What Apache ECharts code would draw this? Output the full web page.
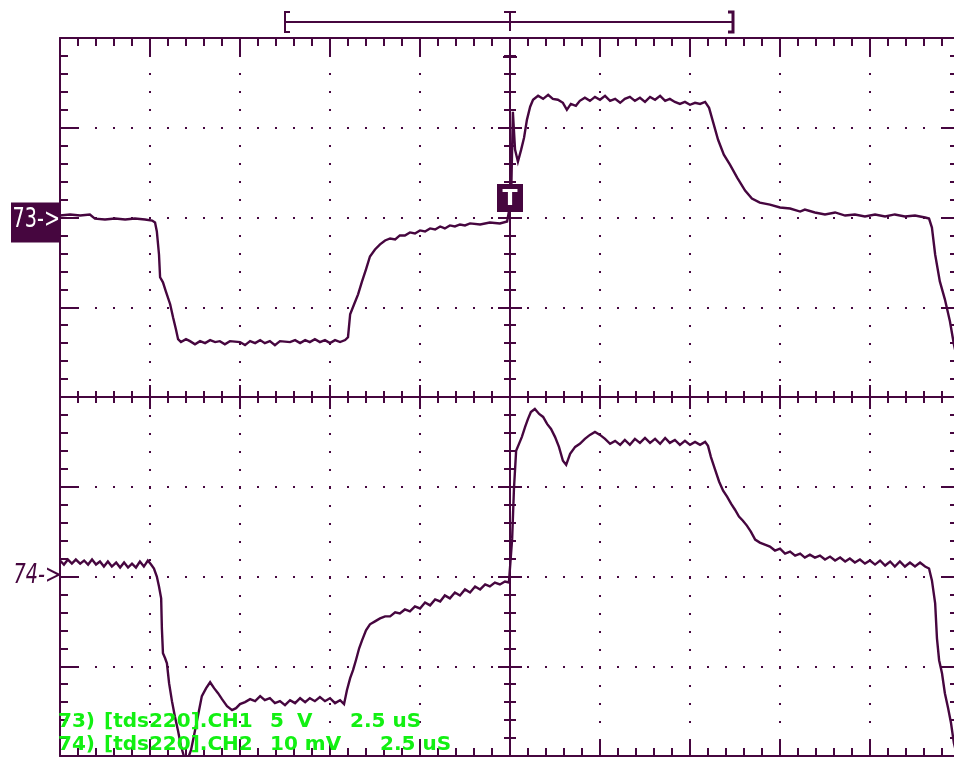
<!DOCTYPE html>
<html>
<head>
<meta charset="utf-8">
<script src="https://cdn.jsdelivr.net/npm/echarts@6/dist/echarts.min.js"></script>
<style>
  html, body { margin: 0; padding: 0; background: #ffffff; overflow: hidden; }
  #scope { width: 954px; height: 757px; }
</style>
</head>
<body>
<div id="scope"></div>
<script>
// Horizontal scale: 2.5 us per division, trigger at t = 0
const timeRange = [-12.5, 12.5];
const timePerDiv = 2.5;

// CH1: 5 V per division, ground two divisions below the top
const ch1Range = [-30, 10];
const ch1PerDiv = 5;
// CH2: 10 mV per division, ground two divisions above the bottom
const ch2Range = [-20, 60];
const ch2PerDiv = 10;

// Channel 73 (CH1) samples: time in us, amplitude in V
const ch1Time = [
  -12.5,-12.22,-11.94,-11.67,-11.53,-11.25,-10.97,-10.69,-10.42,-10.14,-9.94,-9.86,-9.81,-9.75,-9.72,-9.64,-9.56,-9.44,-9.36,-9.28,-9.22,
  -9.14,-9.0,-8.89,-8.75,-8.61,-8.47,-8.33,-8.19,-8.06,-7.92,-7.78,-7.5,-7.36,-7.22,-7.08,-6.94,-6.81,-6.67,-6.53,-6.39,-6.11,-5.97,-5.83,-5.69,-5.56,-5.42,-5.28,-5.14,-5.0,-4.86,-4.72,-4.58,
  -4.5,-4.44,-4.33,-4.22,-4.11,-4.0,-3.89,-3.75,
  -3.61,-3.47,-3.33,-3.19,-3.06,-2.92,-2.78,-2.64,-2.5,-2.36,-2.22,-2.08,-1.94,-1.81,-1.67,-1.53,-1.39,-1.25,-1.11,-0.83,-0.56,-0.28,-0.08,
  0.03,0.08,0.14,0.22,0.31,0.39,0.47,0.56,
  0.64,0.78,0.92,1.06,1.19,1.33,1.47,1.58,1.69,1.83,1.94,2.08,2.22,2.36,2.5,2.64,2.78,2.92,3.06,3.19,3.33,3.47,3.61,3.75,3.89,4.03,4.17,4.31,4.44,4.58,4.72,4.86,5.0,5.14,5.28,5.42,
  5.53,5.64,5.78,5.94,6.11,6.31,6.53,6.72,6.94,
  7.22,7.5,7.78,8.06,8.19,8.47,8.75,9.03,9.31,9.58,9.86,10.14,10.42,10.69,10.97,11.25,11.53,
  11.64,11.72,11.81,11.94,12.08,12.22,12.33,12.42];
const ch1Volt = [
  0.11,0.17,0.11,0.17,-0.06,-0.11,-0.06,-0.11,-0.06,-0.11,-0.17,-0.28,-0.78,-2.06,-3.33,-3.61,-4.11,-4.83,-5.56,-6.22,-6.78,
  -6.94,-6.78,-6.89,-7.06,-6.89,-7.0,-6.83,-6.94,-6.89,-7.06,-6.89,-6.94,-7.11,-6.89,-7.0,-6.83,-7.0,-6.89,-7.11,-6.89,-6.94,-6.83,-7.0,-6.83,-6.94,-6.78,-6.94,-6.83,-7.0,-6.83,-6.94,-6.83,
  -6.67,-5.39,-4.83,-4.28,-3.56,-2.89,-2.17,-1.78,
  -1.5,-1.28,-1.17,-1.22,-1.0,-1.0,-0.83,-0.89,-0.72,-0.78,-0.61,-0.67,-0.5,-0.61,-0.44,-0.5,-0.39,-0.44,-0.33,-0.39,-0.28,-0.33,-0.22,
  1.0,5.89,3.78,3.11,3.78,4.44,5.44,6.17,
  6.56,6.78,6.61,6.83,6.61,6.56,6.39,6.0,6.33,6.22,6.5,6.67,6.5,6.72,6.56,6.78,6.5,6.61,6.39,6.61,6.72,6.5,6.67,6.44,6.72,6.56,6.78,6.5,6.61,6.44,6.33,6.44,6.28,6.39,6.33,6.44,
  6.11,5.33,4.33,3.5,2.94,2.22,1.5,1.06,0.83,
  0.72,0.56,0.5,0.33,0.44,0.28,0.17,0.28,0.11,0.17,0.06,0.17,0.06,0.17,0.06,0.11,0.0,
  -0.06,-0.56,-2.06,-3.56,-4.56,-5.78,-7.06,-7.89];

// Channel 74 (CH2) samples: time in us, amplitude in mV
const ch2Time = [-12.5,-12.39,-12.28,-12.17,-12.06,-11.94,-11.83,-11.72,-11.61,-11.5,-11.39,-11.28,-11.17,-11.06,-10.94,-10.83,-10.72,-10.61,-10.5,-10.39,-10.28,-10.17,-10.06,
  -9.97,-9.89,-9.81,-9.75,-9.69,-9.67,-9.64,-9.58,-9.53,-9.47,-9.39,-9.31,-9.22,-9.14,-9.06,-8.94,
  -8.86,-8.78,-8.67,-8.56,-8.44,-8.33,-8.22,-8.11,-8.0,-7.86,-7.72,-7.61,-7.5,-7.36,-7.22,-7.08,-6.94,-6.81,-6.67,-6.53,-6.39,-6.25,-6.11,-5.97,-5.83,-5.69,-5.56,-5.42,-5.28,-5.14,-5.0,-4.86,-4.72,-4.61,
  -4.53,-4.44,-4.36,-4.28,-4.19,-4.11,-4.0,-3.89,-3.75,-3.61,-3.47,-3.33,-3.19,-3.06,-2.92,-2.78,-2.64,-2.5,-2.36,-2.22,-2.08,-1.94,-1.81,-1.67,-1.53,-1.39,-1.25,-1.11,-0.97,-0.83,-0.69,-0.56,-0.42,-0.28,-0.14,-0.03,
  0.06,0.11,0.17,0.25,0.33,0.42,0.5,0.58,0.69,0.81,0.92,1.03,1.14,1.25,1.36,1.47,1.56,1.67,1.81,1.94,2.08,2.22,2.36,2.5,2.64,2.78,2.92,3.06,3.19,3.33,3.47,3.61,3.75,3.89,4.03,4.17,4.31,4.44,4.58,4.72,4.86,5.0,5.14,5.28,5.42,5.5,
  5.58,5.69,5.81,5.92,6.03,6.14,6.25,6.36,6.47,6.58,6.69,6.81,6.94,7.08,7.22,7.36,7.5,7.64,7.78,7.92,8.06,8.19,8.33,8.47,8.61,8.75,8.89,9.03,9.17,9.31,9.44,9.58,9.72,9.86,10.0,10.14,10.28,10.42,10.56,10.69,10.83,10.97,11.11,11.25,11.39,11.53,11.64,11.72,11.81,11.86,11.92,12.0,12.08,12.17,12.25,12.33,12.42];
const ch2MilliVolt = [1.78,1.33,1.89,1.44,1.89,1.44,1.78,1.33,1.89,1.33,1.67,1.11,1.67,1.11,1.56,1.0,1.56,1.0,1.44,1.0,1.67,1.11,1.78,
  1.33,0.89,0,-1.11,-2.44,-5.78,-8.56,-9.11,-9.67,-11.89,-13.89,-15.56,-17.22,-18.89,-20.0,-20.22,
  -19.33,-17.78,-15.56,-13.33,-12.44,-11.78,-12.44,-13.0,-13.67,-14.44,-14.89,-14.67,-14.22,-14.0,-13.67,-13.89,-13.33,-13.78,-13.56,-14.11,-13.89,-14.33,-13.78,-14.11,-13.56,-14.0,-13.56,-13.89,-13.44,-13.89,-13.56,-14.11,-13.78,-14.22,
  -12.67,-11.33,-10.44,-9.33,-8.0,-7.11,-6.0,-5.33,-5.0,-4.67,-4.44,-4.44,-4.0,-4.11,-3.67,-3.89,-3.33,-3.56,-2.89,-3.22,-2.56,-2.78,-2.11,-2.44,-1.78,-2.11,-1.44,-1.78,-1.11,-1.44,-0.89,-1.11,-0.67,-0.89,-0.56,-0.67,
  4.22,9.78,14.0,14.78,15.56,16.67,17.56,18.33,18.67,18.11,17.78,17.0,16.44,15.56,14.44,12.89,12.44,13.67,14.44,14.78,15.33,15.78,16.11,15.78,15.33,14.78,15.11,14.67,15.22,14.67,15.33,14.89,15.44,14.89,15.33,14.78,15.44,14.89,15.22,14.67,15.11,14.67,15.0,14.67,15.0,14.56,
  13.33,12.0,10.56,9.56,8.89,8.11,7.44,6.67,6.22,5.67,5.0,4.11,3.78,3.56,3.33,2.89,3.11,2.56,2.78,2.33,2.56,2.11,2.44,2.11,2.33,1.89,2.22,1.78,2.11,1.67,2.0,1.56,1.89,1.44,1.78,1.33,1.78,1.22,1.67,1.11,1.67,1.11,1.56,1.11,1.56,1.11,0.89,-0.44,-3.0,-6.89,-9.33,-10.78,-13.0,-14.67,-16.33,-18.56,-20.0];

// Channel markers and status readout
const channelTags = ['73->', '74->'];
const statusLine1 = ['73)', '[tds220].CH1', '5', 'V', '2.5 uS'];
const statusLine2 = ['74)', '[tds220].CH2', '10 mV', '2.5 uS'];

const INK = '#46063f';
const GREEN = '#12f012';

function pairs(xs, ys) {
  const n = Math.min(xs.length, ys.length);
  const out = [];
  for (let i = 0; i < n; i++) out.push([xs[i], ys[i]]);
  return out;
}

const dots = { color: INK, width: 2, type: [2, 16], dashOffset: 1, cap: 'butt' };

// Graticule axis builder: a border or centre line with inward/outward ticks
function graticuleAxis(base, tickLen, minorLen, inside, extra) {
  return Object.assign({
    type: 'value',
    min: base.min, max: base.max, interval: base.interval,
    axisLine: { show: true, onZero: false, lineStyle: { color: INK, width: 2 } },
    axisTick: { show: true, inside: inside, length: tickLen, lineStyle: { color: INK, width: 2 } },
    minorTick: { show: true, splitNumber: 5, length: minorLen, lineStyle: { color: INK, width: 2 } },
    axisLabel: { show: false },
    splitLine: { show: false },
    silent: true
  }, extra || {});
}

const tScale = { min: timeRange[0], max: timeRange[1], interval: timePerDiv };
const v1Scale = { min: ch1Range[0], max: ch1Range[1], interval: ch1PerDiv };
const v2Scale = { min: ch2Range[0], max: ch2Range[1], interval: ch2PerDiv };

const GRID = { left: 60, top: 38, width: 900, height: 718 };

const chart = echarts.init(document.getElementById('scope'), null, { renderer: 'canvas' });

chart.setOption({
  animation: false,
  backgroundColor: '#ffffff',
  grid: Object.assign({ containLabel: false, outerBoundsMode: 'none' }, GRID),
  xAxis: [
    graticuleAxis(tScale, 17, 8, true, { position: 'bottom', splitLine: { show: true, lineStyle: dots } }),
    graticuleAxis(tScale, 19, 8, true, { position: 'top' }),
    graticuleAxis(tScale, 12, 6, true, { position: 'bottom', offset: -GRID.height / 2 }),
    graticuleAxis(tScale, 12, 6, false, { position: 'bottom', offset: -GRID.height / 2 })
  ],
  yAxis: [
    graticuleAxis(v1Scale, 19, 8, true, { position: 'left', splitLine: { show: true, lineStyle: dots } }),
    graticuleAxis(v2Scale, 19, 10, true, { position: 'right' }),
    graticuleAxis(v1Scale, 12, 6, true, { position: 'left', offset: -GRID.width / 2 }),
    graticuleAxis(v1Scale, 12, 6, false, { position: 'left', offset: -GRID.width / 2 })
  ],
  series: [
    {
      name: 'CH1', type: 'line', xAxisIndex: 0, yAxisIndex: 0,
      data: pairs(ch1Time, ch1Volt),
      showSymbol: false, clip: true, z: 5,
      lineStyle: { color: INK, width: 2.4, join: 'miter' }
    },
    {
      name: 'CH2', type: 'line', xAxisIndex: 0, yAxisIndex: 1,
      data: pairs(ch2Time, ch2MilliVolt),
      showSymbol: false, clip: true, z: 5,
      lineStyle: { color: INK, width: 2.4, join: 'miter' }
    }
  ]
});

// Overlay: channel ground markers, trigger marker, record bracket, status text
const trigX = chart.convertToPixel({ xAxisIndex: 0 }, 0);
const gnd1 = chart.convertToPixel({ yAxisIndex: 0 }, 0);
const gnd2 = chart.convertToPixel({ yAxisIndex: 1 }, 0);

const stroke = { stroke: INK, lineWidth: 2, fill: null };
const tagFont = '26px "DejaVu Sans Condensed", "DejaVu Sans", sans-serif';
const statusFont = 'bold 20px "DejaVu Sans", sans-serif';

function statusText(str, x, y) {
  return {
    type: 'text', x: x, y: y, z: 100,
    style: { text: str, x: 0, y: 0, fill: GREEN, font: statusFont, align: 'left', verticalAlign: 'middle' }
  };
}

const row1 = 721.5, row2 = 745;

chart.setOption({
  graphic: [
    // channel 73 tag
    { type: 'rect', z: 100, shape: { x: 11, y: gnd1 - 15, width: 49, height: 40 }, style: { fill: INK } },
    { type: 'text', z: 101, x: 60, y: gnd1 + 3, scaleX: 0.82,
      style: { text: channelTags[0], x: 0, y: 0, fill: '#ffffff', font: tagFont, align: 'right', verticalAlign: 'middle' } },
    // channel 74 tag
    { type: 'text', z: 101, x: 61, y: gnd2, scaleX: 0.82,
      style: { text: channelTags[1], x: 0, y: 0, fill: INK, font: 'italic ' + tagFont, align: 'right', verticalAlign: 'middle' } },
    // trigger level box
    { type: 'rect', z: 100, shape: { x: trigX - 13, y: 184, width: 26, height: 28 }, style: { fill: INK } },
    { type: 'text', z: 101, style: { text: 'T', x: trigX, y: 199, fill: '#ffffff', font: 'bold 22px "DejaVu Sans", sans-serif', align: 'center', verticalAlign: 'middle' } },
    // trigger position cap below the top border
    { type: 'line', z: 100, shape: { x1: trigX - 7, y1: 57, x2: trigX + 7, y2: 57 }, style: stroke },
    // record window bracket above the graticule
    { type: 'line', z: 100, shape: { x1: 285, y1: 22, x2: 733, y2: 22 }, style: stroke },
    { type: 'polyline', z: 100, shape: { points: [[290, 12], [285, 12], [285, 32], [290, 32]] }, style: stroke },
    { type: 'polyline', z: 100, shape: { points: [[728, 12], [733, 12], [733, 32], [728, 32]] }, style: { stroke: INK, lineWidth: 3, fill: null } },
    { type: 'line', z: 100, shape: { x1: trigX - 6, y1: 12, x2: trigX + 6, y2: 12 }, style: stroke },
    { type: 'line', z: 100, shape: { x1: trigX, y1: 12, x2: trigX, y2: 31 }, style: stroke },
    // status readout
    statusText(statusLine1[0], 58, row1),
    statusText(statusLine1[1], 104, row1),
    statusText(statusLine1[2], 270, row1),
    statusText(statusLine1[3], 297, row1),
    statusText(statusLine1[4], 350, row1),
    statusText(statusLine2[0], 58, row2),
    statusText(statusLine2[1], 104, row2),
    statusText(statusLine2[2], 270, row2),
    statusText(statusLine2[3], 380, row2)
  ]
});
</script>
</body>
</html>
